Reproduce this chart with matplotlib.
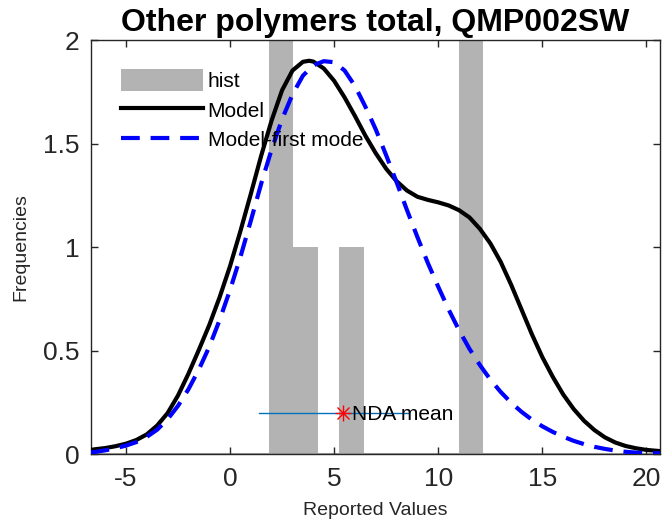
import matplotlib
matplotlib.use("Agg")
import matplotlib.pyplot as plt
from matplotlib.patches import Patch
from matplotlib.lines import Line2D

plt.rcParams['font.family'] = ['Liberation Sans', 'DejaVu Sans']
plt.rcParams['axes.unicode_minus'] = False

# histogram bars (left edge, height), common width
hist_left = [1.87, 3.04, 5.25, 11.0]
hist_height = [2, 1, 1, 2]
hist_width = 1.17

# model curve
model_x = [-6.7, -6.5, -6, -5.5, -5, -4.5, -4, -3.5, -3, -2.5, -2, -1.5, -1, -0.5,
           0, 0.5, 1, 1.5, 2, 2.5, 3, 3.5, 3.8, 4, 4.5, 5, 5.5, 6, 6.5, 7, 7.5,
           8, 8.5, 9, 9.5, 10, 10.5, 11, 11.5, 12, 12.5, 13, 13.5, 14, 14.5, 15,
           15.5, 16, 16.5, 17, 17.5, 18, 18.5, 19, 19.5, 20, 20.7]
model_y = [0.022, 0.025, 0.031, 0.040, 0.052, 0.070, 0.097, 0.14, 0.20, 0.285, 0.39,
           0.505, 0.625, 0.76, 0.91, 1.08, 1.26, 1.445, 1.615, 1.76, 1.855, 1.897, 1.902,
           1.898, 1.865, 1.805, 1.725, 1.635, 1.54, 1.455, 1.38, 1.32, 1.275, 1.245, 1.23,
           1.218, 1.203, 1.18, 1.145, 1.09, 1.02, 0.93, 0.82, 0.70, 0.58, 0.47, 0.375,
           0.29, 0.22, 0.163, 0.118, 0.083, 0.058, 0.041, 0.03, 0.022, 0.016]

# first mode curve
mode1_x = [-6.7, -6, -5.5, -5, -4.5, -4, -3.5, -3, -2.5, -2, -1.5, -1, -0.5, 0, 0.5,
           1, 1.5, 2, 2.5, 3, 3.5, 4, 4.5, 5, 5.5, 6, 6.5, 7, 7.5, 8, 8.5, 9, 9.5,
           10, 10.5, 11, 11.5, 12, 12.5, 13, 13.5, 14, 14.5, 15, 15.5, 16, 16.5, 17,
           17.5, 18, 18.5, 19, 19.5, 20, 20.7]
mode1_y = [0.009, 0.02, 0.03, 0.043, 0.06, 0.085, 0.12, 0.17, 0.235, 0.315, 0.41, 0.52,
           0.65, 0.795, 0.955, 1.13, 1.31, 1.475, 1.62, 1.74, 1.83, 1.88, 1.9, 1.895,
           1.855, 1.78, 1.68, 1.57, 1.445, 1.315, 1.18, 1.05, 0.925, 0.81, 0.70, 0.60,
           0.51, 0.432, 0.362, 0.302, 0.25, 0.206, 0.168, 0.136, 0.109, 0.086, 0.066,
           0.05, 0.037, 0.027, 0.019, 0.013, 0.009, 0.007, 0.005]

# NDA mean and its range
nda_mean = 5.42
nda_range = [1.41, 8.6]
nda_level = 0.2

fig = plt.figure(figsize=(6.66, 5.32), dpi=100)
ax = fig.add_axes([0.1366, 0.1457, 0.8544, 0.7782])

gray = '#b3b3b3'
dash = (0, (4.5, 2.6))
ax.bar(hist_left, hist_height, width=hist_width, align='edge', color=gray,
       edgecolor='none', zorder=1)
ax.axhline(0, color='#a6a6a6', lw=1.5, zorder=1.5)
ax.plot(model_x, model_y, color='black', lw=3, zorder=3, solid_joinstyle='round')
ax.plot(mode1_x, mode1_y, color='#0000ff', lw=3, ls=dash, zorder=3,
        dash_joinstyle='round')

ax.plot(nda_range, [nda_level, nda_level], color='#0072bd', lw=1, zorder=4)
ax.plot([nda_mean], [nda_level], marker='+', color='red', ms=12,
        markeredgewidth=1, zorder=5)
ax.plot([nda_mean], [nda_level], marker='x', color='red', ms=9,
        markeredgewidth=1, zorder=5)
ax.text(nda_mean + 0.42, nda_level - 0.005, 'NDA mean', fontsize=15, va='center',
        ha='left', color='black', zorder=6)

ax.set_xlim(-6.68, 20.65)
ax.set_ylim(0, 2)
ax.set_xticks([-5, 0, 5, 10, 15, 20])
ax.set_yticks([0, 0.5, 1, 1.5, 2])
ax.set_yticklabels(['0', '0.5', '1', '1.5', '2'])
ax.tick_params(direction='in', top=True, right=True, length=5, width=1,
               labelsize=19, colors='#262626')
ax.tick_params(axis='x', pad=9)
ax.tick_params(axis='y', pad=8)
for s in ax.spines.values():
    s.set_color('#262626')
    s.set_linewidth(1)

ax.set_xlabel('Reported Values', fontsize=14, color='#262626', labelpad=8)
ax.set_ylabel('Frequencies', fontsize=14, color='#262626', labelpad=10)
ax.set_title('Other polymers total, QMP002SW', fontsize=23, fontweight='bold',
             pad=7)

handles = [Patch(facecolor=gray, edgecolor='none'),
           Line2D([], [], color='black', lw=3),
           Line2D([], [], color='#0000ff', lw=3, ls=dash)]
ax.legend(handles, ['hist', 'Model', 'Model-first mode'], loc='upper left',
          frameon=False, fontsize=15, handlelength=3.95, handleheight=1.2,
          handletextpad=0.2, labelspacing=0.38, borderaxespad=0, borderpad=0,
          bbox_to_anchor=(0.053, 0.93))

fig.savefig('out.png', dpi=100)
